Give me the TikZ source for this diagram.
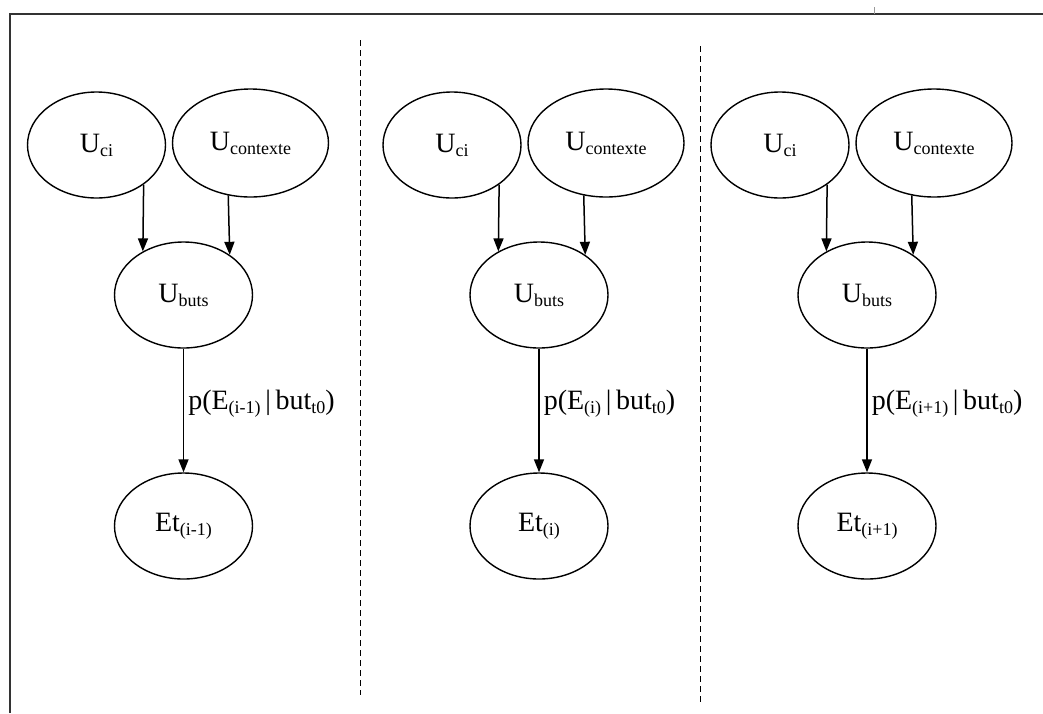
\documentclass[tikz,border=0pt]{standalone}
\usepackage{fontspec}
\setmainfont{Liberation Serif}
\usetikzlibrary{shapes.geometric,arrows.meta}

\newcommand{\lowtxt}[1]{\raisebox{-4pt}{\fontsize{18}{18}\selectfont #1}}

\begin{document}
\begin{tikzpicture}
  [x=1pt,y=-1pt,font=\fontsize{28}{32}\selectfont,
   var/.style={ellipse,draw,line width=1.4pt,inner sep=0pt,
     minimum width=138pt,minimum height=106pt},
   wide/.style={minimum width=156pt,minimum height=108pt},
   arr/.style={-{Triangle[length=13pt,width=10pt]},line width=1.5pt},
   sep/.style={line width=1pt,dash pattern=on 6pt off 4pt}]
  \useasboundingbox (0,0) rectangle (1043,713);

  % frame
  \draw[line width=2pt,black!80] (10,713) -- (10,14) -- (1043,14);
  \draw[line width=0.6pt,black!40] (874,7) -- (874,14);

  % separators
  \draw[sep] (360,40) -- (360,695);
  \draw[sep] (700,46) -- (700,702);

  \foreach \i/\cx/\t in {1/183.5/(i-1),2/539/(i),3/867/(i+1)}{
    \node[var] (uci\i) at ({\cx-87},145) {U\lowtxt{ci}};
    \node[var,wide] (uctx\i) at ({\cx+67},143) {U\lowtxt{contexte}};
    \node[var] (ubuts\i) at (\cx,295) {U\lowtxt{buts}};
    \node[var] (et\i) at (\cx,526) {Et\lowtxt{\t}};

    \draw[arr] (uci\i.-40.6) -- (ubuts\i.133.9);
    \draw[arr] (uctx\i.-113) -- (ubuts\i.41.8);
    \draw[arr] (ubuts\i) -- node[midway,right,inner sep=4pt,yshift=7pt]
      {p(E\lowtxt{\t}\,|\,but\lowtxt{t0})} (et\i);
  }

\end{tikzpicture}
\end{document}
